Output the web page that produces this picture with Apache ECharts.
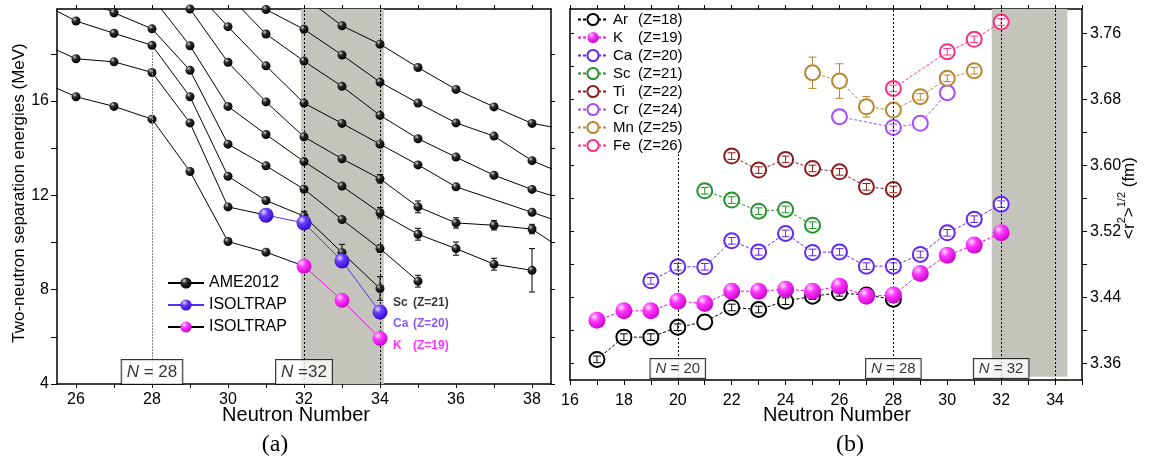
<!DOCTYPE html>
<html>
<head>
<meta charset="utf-8">
<script src="https://cdn.jsdelivr.net/npm/echarts@6/dist/echarts.min.js"></script>
<style>
html, body { margin: 0; padding: 0; background: #fff; }
#chart { width: 1150px; height: 461px; }
</style>
</head>
<body>
<div id="chart"></div>
<script>
var FONT = '"Liberation Sans", Arial, sans-serif';

// (a) two-neutron separation energies S2n (MeV), AME2012 : [N, S2n, error]
var s2nK  = [[25,16.89],[26,16.18],[27,15.77],[28,15.23],[29,13.01],[30,10.04],[31,9.59],[32,9.0]];
var s2nCa = [[25,18.52],[26,17.79],[27,17.66],[28,17.21],[29,15.07],[30,11.51],[31,11.16]];
var s2nSc = [[25,20.23],[26,19.39],[27,18.87],[28,18.36],[29,16.18],[30,12.81],[31,11.78],[32,11.12,0.2],[33,9.57,0.35],[34,8.05,0.5]];
var s2nTi = [[26,20.5],[27,19.74],[28,19.06],[29,17.30],[30,14.17],[31,13.25],[32,12.26],[33,10.97],[34,9.74,0.15],[35,8.36,0.25]];
var s2nV  = [[28,20.4],[29,18.34],[30,15.77],[31,14.58],[32,13.43],[33,12.39],[34,11.26,0.22],[35,10.35,0.25],[36,9.74,0.28],[37,9.08,0.25],[38,8.82,0.92]];
var s2nCr = [[28,21.5],[29,19.9],[30,17.64],[31,15.96],[32,14.48],[33,13.55],[34,12.70,0.18],[35,11.51,0.25],[36,10.83,0.22],[37,10.73,0.2],[38,10.57,0.2],[39,9.5]];
var s2nMn = [[29,20.9],[30,19.15],[31,17.49],[32,15.91],[33,15.05],[34,14.17],[35,13.29],[36,12.36],[38,11.28],[39,10.73]];
var s2nFe = [[30,20.5],[31,18.84],[32,17.69],[33,16.62],[34,15.39],[35,14.40],[36,13.62],[37,12.85],[38,12.25],[39,11.75]];
var s2nCo = [[30,21.4],[31,19.88],[32,19.04],[33,17.95],[34,16.80],[35,15.91],[36,15.07],[37,14.51],[38,13.47],[39,12.80]];
var s2nNi = [[32,20.4],[33,19.19],[34,18.41],[35,17.42],[36,16.49],[37,15.75],[38,15.05],[39,14.76]];
// ISOLTRAP
var isoCa = [[31,11.16],[32,10.83],[33,9.22],[34,7.05]];
var isoK  = [[32,9.0],[33,7.55],[34,5.93]];

var leftTicksX  = [26,27,28,29,30,31,32,33,34,35,36,37,38];
var leftLabelsX = [26,28,30,32,34,36,38];
var leftTicksY  = [4,6,8,10,12,14,16,18];
var leftLabelsY = [4,8,12,16];
var magicLeft     = [28, 32];
var magicLeftText = [' = 28', ' =32'];

// (b) rms charge radii (fm) : [N, r, error]
var radAr = [[17,3.365,.004],[18,3.392,.004],[19,3.392,.004],[20,3.404,.004],[21,3.4105,0],[22,3.428,.004],[23,3.4255,.004],[24,3.4356,.004],[25,3.4417,.004],[26,3.4457,.004],[27,3.443,0],[28,3.438,.004]];
var radK  = [[17,3.4126],[18,3.4239],[19,3.4239],[20,3.4356],[21,3.4328],[22,3.4477],[23,3.4477],[24,3.4502],[25,3.4477],[26,3.4538],[27,3.4417],[28,3.443],[29,3.4692],[30,3.4914],[31,3.5036],[32,3.5185]];
var radCa = [[19,3.4603,.004],[20,3.4773,.004],[21,3.4773,.004],[22,3.5088,.004],[23,3.4954,.004],[24,3.5178,.004],[25,3.4947,.004],[26,3.4954,.004],[27,3.4781,.004],[28,3.4781,.004],[29,3.4923,.004],[30,3.5185,.004],[31,3.5351,.004],[32,3.5533,.004]];
var radSc = [[21,3.5695,.004],[22,3.5582,.004],[23,3.5448,.004],[24,3.5469,.004],[25,3.5278,.004]];
var radTi = [[22,3.6116,.004],[23,3.5946,.004],[24,3.6076,.004],[25,3.5966,.004],[26,3.5925,.004],[27,3.5743,.004],[28,3.5711,.004]];
var radCr = [[26,3.6593,0],[28,3.6464,.004],[29,3.6513,0],[30,3.6884,0]];
var radMn = [[25,3.7127,.019],[26,3.7026,.021],[27,3.6714,.0125],[28,3.6674,0],[29,3.6836,.004],[30,3.7059,.004],[31,3.7151,.004]];
var radFe = [[28,3.6937,.004],[30,3.7382,.004],[31,3.7532,.004],[32,3.7742,.004]];

var radNames  = ['Ar','K','Ca','Sc','Ti','Cr','Mn','Fe'];
var radZ      = [18, 19, 20, 21, 22, 24, 25, 26];
var radColors = ['#000000','#ff00ff','#6028f0','#23942a','#8c1c1c','#a64cff','#b8862e','#ff2d82'];
var radData   = [radAr, radK, radCa, radSc, radTi, radCr, radMn, radFe];

var rightTicksX  = [16,17,18,19,20,21,22,23,24,25,26,27,28,29,30,31,32,33,34,35];
var rightLabelsX = [16,18,20,22,24,26,28,30,32,34];
var rightTicksY  = [3.36,3.40,3.44,3.48,3.52,3.56,3.60,3.64,3.68,3.72,3.76];
var rightLabelsY = [3.36,3.44,3.52,3.60,3.68,3.76];
var magicRight     = [20, 28, 32];
var magicRightText = [' = 20', ' = 28', ' = 32'];

function ball(hi, mid, lo) {
  return new echarts.graphic.RadialGradient(0.35, 0.3, 0.75, [
    { offset: 0, color: hi }, { offset: 0.35, color: mid }, { offset: 1, color: lo }
  ]);
}
var blackBall  = ball('#d0d0d0', '#2a2a2a', '#000000');
var purpleBall = ball('#e4dcff', '#6a3cff', '#3208c8');
var pinkBall   = ball('#ffe4ff', '#ff3cff', '#c800c8');

function errBars(list, color, xi, yi, cap, radius, z) {
  return {
    type: 'custom', xAxisIndex: xi, yAxisIndex: yi, z: z, silent: true,
    itemStyle: { color: color },
    encode: { x: 0, y: 1 },
    data: list.filter(function (p) { return p[2] > 0; }),
    renderItem: function (params, api) {
      var x = api.value(0), y = api.value(1), e = api.value(2);
      var c = api.coord([x, y]);
      var t = api.coord([x, y + e]), b = api.coord([x, y - e]);
      var st = { stroke: color, lineWidth: 1 };
      var kids = [
        { type: 'line', shape: { x1: t[0] - cap, y1: t[1], x2: t[0] + cap, y2: t[1] }, style: st },
        { type: 'line', shape: { x1: b[0] - cap, y1: b[1], x2: b[0] + cap, y2: b[1] }, style: st }
      ];
      if (c[1] - t[1] > radius) {
        kids.push({ type: 'line', shape: { x1: c[0], y1: t[1], x2: c[0], y2: c[1] - radius }, style: st });
        kids.push({ type: 'line', shape: { x1: c[0], y1: c[1] + radius, x2: c[0], y2: b[1] }, style: st });
      } else {
        kids.push({ type: 'line', shape: { x1: c[0], y1: t[1], x2: c[0], y2: b[1] }, style: st });
      }
      return { type: 'group', children: kids };
    }
  };
}

var ameChains = [s2nK, s2nCa, s2nSc, s2nTi, s2nV, s2nCr, s2nMn, s2nFe, s2nCo, s2nNi];
var series = [];

// band and magic-number lines, panel (a)
series.push({
  type: 'line', xAxisIndex: 0, yAxisIndex: 0, data: [], z: 1, silent: true,
  markArea: { silent: true, itemStyle: { color: '#c4c4bc' }, data: [[{ coord: [31.92, 4] }, { coord: [34.1, 19.9] }]] },
  markLine: {
    symbol: 'none', silent: true, label: { show: false }, animation: false,
    lineStyle: { color: '#000', width: 1, type: [2, 2] },
    data: [
      [{ coord: [32, 4] }, { coord: [32, 19.9] }],
      [{ coord: [34, 4] }, { coord: [34, 19.9] }],
      [{ coord: [28, 4], lineStyle: { color: '#888', type: [2, 1] } }, { coord: [28, 18.1] }]
    ]
  }
});

ameChains.forEach(function (ch) {
  series.push({
    type: 'line', name: 'AME2012', xAxisIndex: 0, yAxisIndex: 0, data: ch,
    encode: { x: 0, y: 1 }, symbol: 'circle', symbolSize: 9, z: 3,
    itemStyle: { color: blackBall }, lineStyle: { color: '#000', width: 1 }
  });
});
series.push(errBars([].concat.apply([], ameChains), '#000', 0, 0, 3, 0, 2));

series.push({
  type: 'line', name: 'ISOLTRAP', xAxisIndex: 0, yAxisIndex: 0, data: isoCa,
  symbol: 'circle', symbolSize: 15, z: 5,
  itemStyle: { color: purpleBall }, lineStyle: { color: '#5a30f0', width: 1 }
});
series.push({
  type: 'line', name: 'ISOLTRAP ', xAxisIndex: 0, yAxisIndex: 0, data: isoK,
  symbol: 'circle', symbolSize: 15, z: 5,
  itemStyle: { color: pinkBall }, lineStyle: { color: '#ff00ff', width: 1 }
});

// element labels at N = 34
var tagStyle = { fontFamily: FONT, fontSize: 12, fontWeight: 'bold' };
series.push({
  type: 'scatter', xAxisIndex: 0, yAxisIndex: 0, symbolSize: 0, z: 6, silent: true,
  label: { show: true, position: 'right', distance: 13, rich: {} },
  data: [
    { value: s2nSc[s2nSc.length - 1].slice(0, 2), label: { offset: [0, 14], formatter: '{a|Sc}{b|(Z=21)}', rich: {
      a: Object.assign({ width: 20, color: '#000' }, tagStyle), b: Object.assign({ color: '#000' }, tagStyle) } } },
    { value: isoCa[isoCa.length - 1], label: { offset: [0, 12], formatter: '{a|Ca}{b|(Z=20)}', rich: {
      a: Object.assign({ width: 20, color: '#6a30f0' }, tagStyle), b: Object.assign({ color: '#6a30f0' }, tagStyle) } } },
    { value: isoK[isoK.length - 1], label: { offset: [0, 7], formatter: '{a|K}{b|(Z=19)}', rich: {
      a: Object.assign({ width: 20, color: '#ff00ff' }, tagStyle), b: Object.assign({ color: '#ff00ff' }, tagStyle) } } }
  ]
});

function magicBoxes(list, texts, xi, yi, ymin, fs, pad, dist) {
  return {
    type: 'scatter', xAxisIndex: xi, yAxisIndex: yi, symbolSize: 0, z: 8, silent: true,
    data: list.map(function (n, i) {
      return { value: [n, ymin], label: { formatter: '{i|N}{t|' + texts[i] + '}' } };
    }),
    label: {
      show: true, position: 'top', distance: dist,
      backgroundColor: '#fff', borderColor: '#000', borderWidth: 1, padding: pad,
      rich: {
        i: { fontFamily: FONT, fontSize: fs, fontStyle: 'italic', color: '#000' },
        t: { fontFamily: FONT, fontSize: fs, color: '#000' }
      }
    }
  };
}
series.push(magicBoxes(magicLeft, magicLeftText, 0, 0, 4, 17, [4, 5, 3, 5], 0));

// panel (b)
series.push({
  type: 'line', xAxisIndex: 2, yAxisIndex: 3, data: [], z: 1, silent: true,
  markArea: { silent: true, itemStyle: { color: '#c4c4bc' }, data: [[{ coord: [31.65, 3.3438] }, { coord: [34.46, 3.79] }]] },
  markLine: {
    symbol: 'none', silent: true, label: { show: false }, animation: false,
    lineStyle: { color: '#000', width: 1, type: [2, 2] },
    data: [
      [{ coord: [20, 3.34] }, { coord: [20, 3.615] }],
      [{ coord: [28, 3.34] }, { coord: [28, 3.79] }],
      [{ coord: [32, 3.34] }, { coord: [32, 3.79] }],
      [{ coord: [34, 3.34] }, { coord: [34, 3.79] }]
    ]
  }
});

radNames.forEach(function (name, i) {
  var filled = name === 'K';
  series.push({
    type: 'line', name: name, xAxisIndex: 2, yAxisIndex: 3, data: radData[i],
    encode: { x: 0, y: 1 },
    symbol: filled ? 'circle' : 'emptyCircle', symbolSize: filled ? 17 : 15,
    z: filled ? 5 : 3,
    itemStyle: filled ? { color: pinkBall } : { color: radColors[i], borderWidth: 1.2 },
    lineStyle: { color: radColors[i], width: 1, type: [3, 2] }
  });
  if (!filled) series.push(errBars(radData[i], radColors[i], 2, 3, 4, 7.5, 4));
});
series.push(magicBoxes(magicRight, magicRightText, 2, 3, 3.34, 15, [2, 5, 2, 5], 2));

var axisText = { fontFamily: FONT, fontSize: 16, color: '#000' };
var axLine = { onZero: false, lineStyle: { color: '#000', width: 1.5 } };

var option = {
  animation: false,
  backgroundColor: '#fff',
  grid: [
    { left: 57, top: 9, width: 494, height: 375, outerBoundsMode: 'none' },
    { left: 570, top: 9, width: 512, height: 371, outerBoundsMode: 'none' }
  ],
  xAxis: [
    { gridIndex: 0, type: 'value', min: 25.5, max: 38.5, position: 'bottom', axisLine: axLine,
      axisTick: { customValues: leftTicksX, length: 4, lineStyle: { color: '#000' } },
      axisLabel: Object.assign({ customValues: leftLabelsX, margin: 8 }, axisText), splitLine: { show: false } },
    { gridIndex: 0, type: 'value', min: 25.5, max: 38.5, position: 'top', axisLine: axLine,
      axisTick: { customValues: leftTicksX, length: 4, lineStyle: { color: '#000' } },
      axisLabel: { show: false }, splitLine: { show: false } },
    { gridIndex: 1, type: 'value', min: 16, max: 35, position: 'bottom', axisLine: axLine,
      axisTick: { customValues: rightTicksX, length: 5, lineStyle: { color: '#000' } },
      axisLabel: Object.assign({ customValues: rightLabelsX, margin: 13 }, axisText), splitLine: { show: false } },
    { gridIndex: 1, type: 'value', min: 16, max: 35, position: 'top', axisLine: axLine,
      axisTick: { customValues: rightTicksX, length: 4, lineStyle: { color: '#000' } },
      axisLabel: { show: false }, splitLine: { show: false } }
  ],
  yAxis: [
    { gridIndex: 0, type: 'value', min: 4, max: 19.9, position: 'left', axisLine: axLine,
      axisTick: { customValues: leftTicksY, length: 6, lineStyle: { color: '#000' } },
      axisLabel: Object.assign({ customValues: leftLabelsY, margin: 8 }, axisText), splitLine: { show: false } },
    { gridIndex: 0, type: 'value', min: 4, max: 19.9, position: 'right', axisLine: axLine,
      axisTick: { customValues: leftTicksY, length: 4, lineStyle: { color: '#000' } },
      axisLabel: { show: false }, splitLine: { show: false } },
    { gridIndex: 1, type: 'value', min: 3.34, max: 3.79, position: 'left', axisLine: axLine,
      axisTick: { customValues: rightTicksY, length: 4, inside: true, lineStyle: { color: '#000' } },
      axisLabel: { show: false }, splitLine: { show: false } },
    { gridIndex: 1, type: 'value', min: 3.34, max: 3.79, position: 'right', axisLine: axLine,
      axisTick: { customValues: rightTicksY, length: 5, lineStyle: { color: '#000' } },
      axisLabel: Object.assign({ customValues: rightLabelsY, margin: 8,
        formatter: function (v) { return v.toFixed(2); } }, axisText),
      splitLine: { show: false } }
  ],
  legend: [
    { data: ['AME2012', 'ISOLTRAP', { name: 'ISOLTRAP ', lineStyle: { color: '#000' } }],
      orient: 'vertical', left: 167, top: 275, padding: 0, itemWidth: 36, itemHeight: 14, itemGap: 6,
      selectedMode: false, textStyle: { fontFamily: FONT, fontSize: 16, color: '#000' } },
    { data: radNames, orient: 'vertical', left: 577, top: 12, padding: 0, itemWidth: 30, itemHeight: 14, itemGap: 3,
      selectedMode: false,
      formatter: function (name) { return '{a|' + name + '}{b|(Z=' + radZ[radNames.indexOf(name)] + ')}'; },
      textStyle: { fontFamily: FONT, fontSize: 15, color: '#000',
        rich: { a: { width: 25, fontFamily: FONT, fontSize: 15, color: '#000' },
                b: { fontFamily: FONT, fontSize: 15, color: '#000' } } } }
  ],
  graphic: [
    { type: 'text', x: 296, y: 415, style: { text: 'Neutron Number', fontFamily: FONT, fontSize: 20, fill: '#000', align: 'center', verticalAlign: 'middle' } },
    { type: 'text', x: 837, y: 415, style: { text: 'Neutron Number', fontFamily: FONT, fontSize: 20, fill: '#000', align: 'center', verticalAlign: 'middle' } },
    { type: 'text', x: 19, y: 193, rotation: Math.PI / 2,
      style: { text: 'Two-neutron separation energies (MeV)', fontFamily: FONT, fontSize: 17, fill: '#000', align: 'center', verticalAlign: 'middle' } },
    { type: 'text', x: 1127, y: 198, rotation: Math.PI / 2,
      style: { text: '{a|<r}{s|2}{a|>}{s|1/2}{a| (fm)}', align: 'center', verticalAlign: 'middle',
        rich: { a: { fontFamily: FONT, fontSize: 17, fill: '#000', color: '#000', lineHeight: 22, verticalAlign: 'bottom' },
                s: { fontFamily: FONT, fontSize: 11, fill: '#000', color: '#000', lineHeight: 22, verticalAlign: 'top' } } } },
    { type: 'text', x: 275, y: 445, style: { text: '(a)', fontFamily: '"Liberation Serif", "DejaVu Serif", serif', fontSize: 24, fill: '#000', align: 'center', verticalAlign: 'middle' } },
    { type: 'text', x: 850, y: 445, style: { text: '(b)', fontFamily: '"Liberation Serif", "DejaVu Serif", serif', fontSize: 24, fill: '#000', align: 'center', verticalAlign: 'middle' } }
  ],
  series: series
};

var chart = echarts.init(document.getElementById('chart'));
chart.setOption(option);
window.onresize = chart.resize;
</script>
</body>
</html>
